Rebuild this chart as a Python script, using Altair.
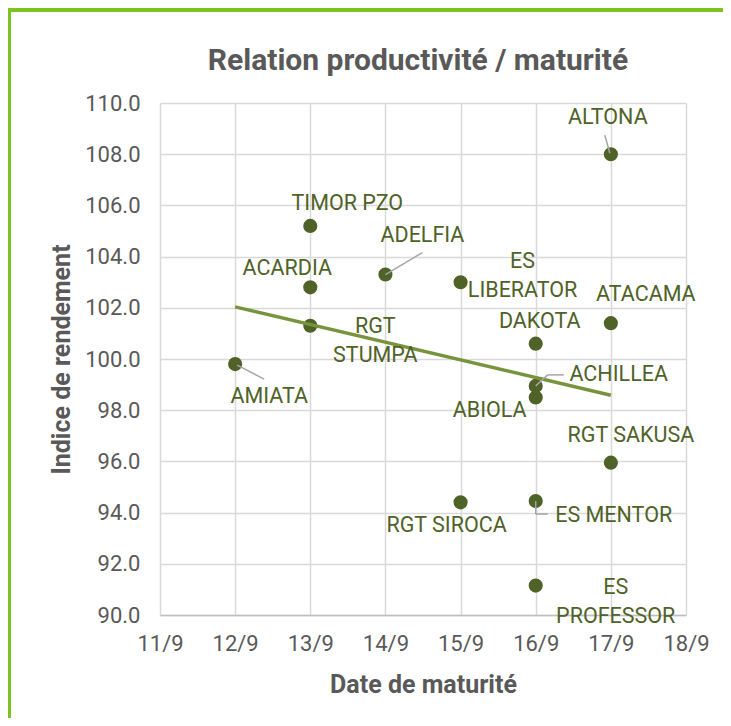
import altair as alt
import pandas as pd

# ---- data ----
names = ["AMIATA", "TIMOR PZO", "ACARDIA", "RGT\nSTUMPA", "ADELFIA", "ES\nLIBERATOR",
         "RGT SIROCA", "DAKOTA", "ACHILLEA", "ABIOLA", "ES MENTOR", "ES\nPROFESSOR",
         "ALTONA", "ATACAMA", "RGT SAKUSA"]
day = [12, 13, 13, 13, 14, 15, 15, 16, 16, 16, 16, 16, 17, 17, 17]
rendement = [99.8, 105.2, 102.8, 101.3, 103.3, 103.0, 94.4, 100.6, 98.95, 98.5,
             94.45, 91.15, 108.0, 101.4, 95.95]
x_ticks = [11, 12, 13, 14, 15, 16, 17, 18]
y_ticks = [90, 92, 94, 96, 98, 100, 102, 104, 106, 108, 110]

# ---- layout (pixels) ----
W, H = 526, 512
XMIN, XMAX, YMIN, YMAX = 11, 18, 90, 110
PX_DAY = W / (XMAX - XMIN)
PX_UNIT = H / (YMAX - YMIN)
label_dx = [34, 37, -23, 65, 37, 62, -14, 4, 83, -46, 78, 80, -3, 35, 20]
label_dy = [33, -22, -18, 1, -39, -20, 24, -22, -11, 14, 15, 2, -36, -28, -27]
# leader segments: (label name, dx1, dy1, dx2, dy2) in px from the point
leaders = [("ALTONA", -1, -1, -6, -19), ("ADELFIA", 0, 0, 37, -22),
           ("AMIATA", 2, 1, 29, 15), ("ACHILLEA", 0, 0, 12, -11),
           ("ACHILLEA", 12, -11, 28, -11), ("ES MENTOR", 0, 0, 0, 13),
           ("ES MENTOR", 0, 13, 12, 13)]

df = pd.DataFrame({"name": names, "day": day, "val": rendement})
df["lx"] = df["day"] + pd.Series(label_dx) / PX_DAY
df["ly"] = df["val"] - pd.Series(label_dy) / PX_UNIT

pos = dict(zip(names, zip(day, rendement)))
seg = []
for n, a, b, c, d in leaders:
    px, py = pos[n]
    seg.append({"x1": px + a / PX_DAY, "y1": py - b / PX_UNIT,
                "x2": px + c / PX_DAY, "y2": py - d / PX_UNIT})
seg_df = pd.DataFrame(seg)

FONT = "Roboto"
OLIVE = "#4F6228"
GREY = "#595959"

xs = alt.Scale(domain=[XMIN, XMAX], nice=False, zero=False)
ys = alt.Scale(domain=[YMIN, YMAX], nice=False, zero=False)

base = alt.Chart(df)

points = base.mark_circle(size=200, color=OLIVE, opacity=1).encode(
    x=alt.X("day:Q", scale=xs, title="Date de maturité",
            axis=alt.Axis(values=x_ticks, labelExpr="datum.value + '/9'",
                          labelPadding=18, titlePadding=18, labelFlush=False,
                          labelOverlap=False)),
    y=alt.Y("val:Q", scale=ys, title="Indice de rendement",
            axis=alt.Axis(values=y_ticks, format=".1f", labelPadding=20,
                          titlePadding=10, labelOverlap=False)),
)

trend = base.transform_regression("day", "val").mark_line(
    color="#77933C", strokeWidth=3.5).encode(
    x=alt.X("day:Q", scale=xs), y=alt.Y("val:Q", scale=ys))

lead = alt.Chart(seg_df).mark_rule(color="#A6A6A6", strokeWidth=1.5).encode(
    x=alt.X("x1:Q", scale=xs), y=alt.Y("y1:Q", scale=ys),
    x2="x2:Q", y2="y2:Q")

labels = base.mark_text(font=FONT, fontSize=21.5, color=OLIVE, lineBreak="\n",
                        lineHeight=29, align="center", baseline="middle").encode(
    x=alt.X("lx:Q", scale=xs), y=alt.Y("ly:Q", scale=ys), text="name:N")

frame = alt.Chart(df).mark_rect(fillOpacity=0, stroke="#7DC21E", strokeWidth=2.5).encode(
    x=alt.value(-151), x2=alt.value(620), y=alt.value(-93), y2=alt.value(700))

chart = alt.layer(frame, points, trend, lead, labels).properties(
    width=W, height=H,
    title=alt.TitleParams("Relation productivité / maturité", font=FONT,
                          fontSize=30, fontWeight="bold", color=GREY,
                          anchor="middle", frame="group", offset=0, dy=67, dx=-5),
    autosize=alt.AutoSizeParams(type="none"),
    padding={"left": 152, "top": 95, "right": 37, "bottom": 103},
).configure_view(stroke=None).configure_axis(
    grid=True, gridColor="#D9D9D9", gridWidth=1.5, domain=False, ticks=False,
    labelFont=FONT, labelFontSize=22, labelColor=GREY,
    titleFont=FONT, titleFontSize=25, titleFontWeight="bold", titleColor=GREY,
).configure_axisX(domain=True, domainColor="#BFBFBF", domainWidth=1.5)

chart.save("out.html", embed_options={"renderer": "svg", "actions": False})
